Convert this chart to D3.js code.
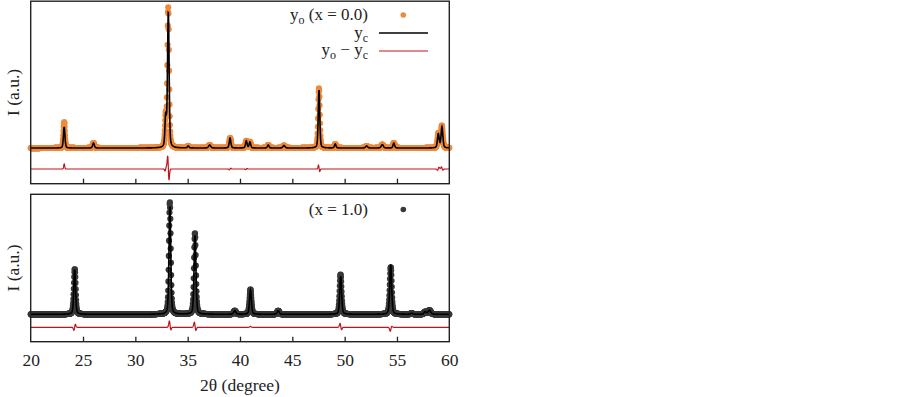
<!DOCTYPE html>
<html>
<head>
<meta charset="utf-8">
<script src="https://cdn.jsdelivr.net/npm/d3@7"></script>
<style>
  body { margin: 0; background: #fff; }
  text { font-family: "Liberation Serif", "DejaVu Serif", serif; fill: #222; }
</style>
</head>
<body>
<script>
// XRD patterns for x = 0.0 (top) and x = 1.0 (bottom)
// peak lists: position (deg), height, fwhm, residual bump, residual slope

let width = 903,
    height = 397;

const thetaTicks = [20, 25, 30, 35, 40, 45, 50, 55, 60];

// x = 0.0
const peakPosA = [23.2, 26.0, 32.9, 33.15, 35.05, 37.1, 39.05, 40.6, 40.95, 42.7, 44.2, 47.55, 49.1, 52.1, 53.6, 54.7, 58.95, 59.3];
const peakHgtA = [21, 5, 30, 136, 2, 3, 10, 7, 6, 3, 2.5, 58, 4, 2, 3.5, 5, 14, 21];
const peakWidA = [0.17, 0.19, 0.17, 0.18, 0.18, 0.24, 0.18, 0.18, 0.18, 0.18, 0.24, 0.17, 0.18, 0.24, 0.24, 0.18, 0.2, 0.2];
const resBumpA = [5, 0, 0, 2, 0, 0, 0, 0, 0, 0, 0, 1.5, 0, 0, 0, 0, 0.5, 1];
const resSlopeA = [0, 0, 2, -12, 0, 0, 0.8, 0.5, 0, 0, 0, -3, 0, 0, 0, 0, 1.5, -1.5];

// x = 1.0
const peakPosB = [24.2, 33.3, 35.7, 39.5, 41.0, 43.65, 49.62, 54.4, 56.4, 57.7, 58.1];
const peakHgtB = [45, 108, 79, 3.5, 24, 3.5, 38, 50, 1, 2.5, 4];
const peakWidB = [0.2, 0.2, 0.21, 0.24, 0.21, 0.24, 0.21, 0.21, 0.24, 0.24, 0.3];
const resBumpB = [0, 4, 2, 0, 1, 0, 1.5, -3, 0, 0, 0];
const resSlopeB = [3, -4, -4, 0, 0, 0, -3, 2, 0, 0, 0];

const orange = '#ef8a3b',
      darkDot = '#383838',
      diffRed = '#c0141c';

const xLeft = 30.7, xRight = 449.3;

let svg = d3.select('body').append('svg')
    .attr('width', width)
    .attr('height', height);

let x = d3.scaleLinear().domain([20, 60]).range([xLeft, xRight]);

// sampling grid of the diffractometer (0.02 deg step)
const grid = d3.range(0, 2001).map(i => 20 + i * 0.02);

function profile(t, pos, h, w) {
    let dx = (t - pos) / (w / 2);
    let eta = 0.35;
    return h * (eta / (1 + dx * dx) + (1 - eta) * Math.exp(-Math.LN2 * dx * dx));
}

function residual(t, pos, w, bump, slope) {
    let dx = (t - pos) / (w / 2);
    let g = Math.exp(-dx * dx * 1.5);
    return bump * g + slope * (dx * Math.exp(-dx * dx)) / 0.4289;
}

function buildPattern(pos, hgt, wid, rb, rs) {
    return grid.map(t => {
        let c = 0, r = 0;
        for (let i = 0; i < pos.length; i++) {
            c += profile(t, pos[i], hgt[i], wid[i]);
            r += residual(t, pos[i], wid[i], rb[i], rs[i]);
        }
        return { t: t, calc: c, obs: c + r, diff: r };
    });
}

function drawPanel(cfg) {
    let y = d3.scaleLinear().domain(cfg.yDomain).range([cfg.bottom, cfg.top]);
    let g = svg.append('g');
    let data = buildPattern(cfg.pos, cfg.hgt, cfg.wid, cfg.rb, cfg.rs);

    // difference curve
    g.append('path')
        .datum(data)
        .attr('fill', 'none')
        .attr('stroke', diffRed)
        .attr('stroke-width', 1.2)
        .attr('d', d3.line().x(d => x(d.t)).y(d => y(cfg.diffOffset + d.diff)));

    // observed points
    g.append('g').selectAll('circle')
        .data(data)
        .enter().append('circle')
        .attr('cx', d => x(d.t))
        .attr('cy', d => y(d.obs))
        .attr('r', 3.1)
        .attr('fill', cfg.dotColor);

    // calculated curve on top
    g.append('path')
        .datum(data)
        .attr('fill', 'none')
        .attr('stroke', '#000')
        .attr('stroke-width', 1.6)
        .attr('d', d3.line().x(d => x(d.t)).y(d => y(d.calc)));

    // frame
    g.append('rect')
        .attr('x', xLeft)
        .attr('y', cfg.top)
        .attr('width', xRight - xLeft)
        .attr('height', cfg.bottom - cfg.top)
        .attr('fill', 'none')
        .attr('stroke', '#222')
        .attr('stroke-width', 1.4);

    // inward ticks on the bottom edge
    let axis = d3.axisTop(x).tickValues(thetaTicks.slice(1, -1)).tickSize(5).tickFormat('');
    let ax = g.append('g')
        .attr('transform', `translate(0,${cfg.bottom})`)
        .call(axis);
    ax.select('.domain').remove();
    ax.selectAll('line').attr('stroke', '#222').attr('stroke-width', 1.3);

    if (cfg.labels) {
        let ax2 = g.append('g')
            .attr('transform', `translate(0,${cfg.bottom})`)
            .call(d3.axisBottom(x).tickValues(thetaTicks).tickSize(0).tickPadding(12));
        ax2.select('.domain').remove();
        ax2.selectAll('text')
            .attr('font-size', '17.5px')
            .attr('fill', '#222');
    }

    // y label
    svg.append('text')
        .attr('transform', `translate(19,${(cfg.top + cfg.bottom) / 2}) rotate(-90)`)
        .attr('text-anchor', 'middle')
        .attr('font-size', '17.5px')
        .text('I (a.u.)');

    return y;
}

drawPanel({
    top: 1.2, bottom: 183.7, yDomain: [-35.7, 147],
    pos: peakPosA, hgt: peakHgtA, wid: peakWidA, rb: resBumpA, rs: resSlopeA,
    diffOffset: -21, dotColor: orange, labels: false
});

drawPanel({
    top: 194.3, bottom: 341.7, yDomain: [-27.4, 120],
    pos: peakPosB, hgt: peakHgtB, wid: peakWidB, rb: resBumpB, rs: resSlopeB,
    diffOffset: -13, dotColor: darkDot, labels: true
});

// x label
svg.append('text')
    .attr('x', x(40))
    .attr('y', 391)
    .attr('text-anchor', 'middle')
    .attr('font-size', '17.5px')
    .text('2θ (degree)');

// legends: plain text pieces, subscripts shifted down with baseline-shift
function legendText(yPos, parts) {
    let t = svg.append('text')
        .attr('x', 368)
        .attr('y', yPos)
        .attr('text-anchor', 'end')
        .attr('font-size', '17px');
    parts.forEach(p => {
        if (p.sub) {
            t.append('tspan').attr('font-size', '12px').attr('baseline-shift', '-4').text(p.sub);
        } else {
            t.append('tspan').text(p.txt);
        }
    });
}

legendText(20, [{ txt: 'y' }, { sub: 'o' }, { txt: ' (x = 0.0)' }]);
svg.append('circle').attr('cx', 403.3).attr('cy', 15).attr('r', 2.8).attr('fill', orange);

legendText(37.5, [{ txt: 'y' }, { sub: 'c' }]);
svg.append('line').attr('x1', 379).attr('x2', 428).attr('y1', 33).attr('y2', 33)
    .attr('stroke', '#000').attr('stroke-width', 1.6);

legendText(55, [{ txt: 'y' }, { sub: 'o' }, { txt: ' − y' }, { sub: 'c' }]);
svg.append('line').attr('x1', 379).attr('x2', 428).attr('y1', 51).attr('y2', 51)
    .attr('stroke', diffRed).attr('stroke-width', 1.2);

legendText(215, [{ txt: '(x = 1.0)' }]);
svg.append('circle').attr('cx', 403.3).attr('cy', 209.5).attr('r', 2.8).attr('fill', darkDot);
</script>
</body>
</html>
